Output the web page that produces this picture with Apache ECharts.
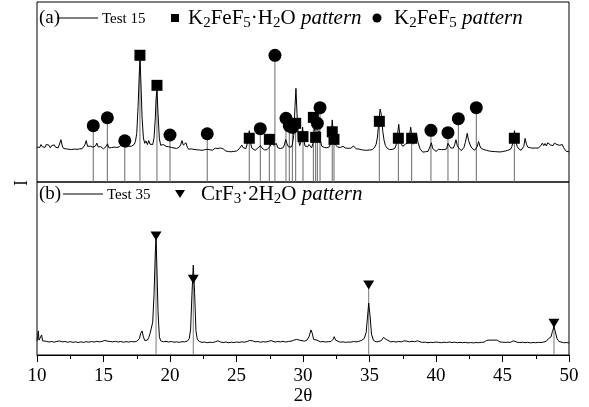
<!DOCTYPE html>
<html><head><meta charset="utf-8">
<script src="https://cdn.jsdelivr.net/npm/echarts@6/dist/echarts.min.js"></script>
<style>html,body{margin:0;padding:0;background:#fff}#c{width:589px;height:407px}</style>
</head><body><div id="c"></div>
<script>
// ---- data ----
const xTicks = [10, 15, 20, 25, 30, 35, 40, 45, 50];

// Test 15 trace (2θ, relative intensity, panel a)
const test15 = [
[10.0,19.5],[10.1,20.3],[10.2,19.1],[10.3,20.8],[10.4,19.6],[10.5,20.5],[10.6,19.2],[10.7,20.9],[10.8,19.8],[10.9,20.4],
[11.0,19.0],[11.1,20.2],[11.2,19.4],[11.3,20.6],[11.4,19.3],[11.5,20.1],[11.6,19.0],[11.7,19.8],[11.8,23.5],[11.85,24.4],
[11.9,20.0],[12.0,18.6],[12.1,19.3],[12.2,18.4],[12.3,19.0],[12.4,18.2],[12.5,18.9],[12.6,18.0],[12.7,18.7],[12.8,18.3],
[12.9,19.2],[13.0,18.1],[13.1,18.8],[13.2,18.4],[13.3,19.3],[13.4,18.5],[13.5,19.6],[13.6,20.6],[13.7,23.0],[13.8,19.8],
[13.9,19.1],[14.0,19.9],[14.1,20.7],[14.2,19.4],[14.3,18.8],[14.4,20.0],[14.5,21.6],[14.6,19.5],[14.7,18.8],[14.8,19.6],
[14.9,18.9],[15.0,18.4],[15.1,19.2],[15.2,19.8],[15.3,21.2],[15.4,19.0],[15.5,18.3],[15.6,19.1],[15.7,18.6],[15.8,19.4],
[15.9,18.7],[16.0,19.2],[16.1,18.5],[16.2,19.6],[16.3,20.4],[16.4,21.3],[16.5,19.6],[16.6,18.6],[16.7,19.4],[16.8,18.9],
[16.9,19.8],[17.0,19.2],[17.1,19.9],[17.2,20.1],[17.3,20.8],[17.4,22.5],[17.5,27.0],[17.6,42.0],[17.7,62.0],[17.75,67.5],
[17.8,58.0],[17.9,36.0],[18.0,24.5],[18.1,21.5],[18.2,22.8],[18.3,20.8],[18.4,23.0],[18.5,21.0],[18.6,20.0],[18.7,20.8],
[18.8,24.5],[18.9,36.0],[18.95,46.0],[19.02,51.5],[19.1,38.0],[19.2,24.0],[19.3,20.4],[19.4,19.6],[19.5,20.8],[19.6,21.8],
[19.7,19.8],[19.8,19.0],[19.9,19.6],[20.0,20.6],[20.1,19.2],[20.2,18.3],[20.3,18.9],[20.4,18.1],[20.5,18.6],[20.6,18.2],
[20.7,19.4],[20.8,20.6],[20.9,23.0],[21.0,20.5],[21.1,20.3],[21.2,21.8],[21.3,19.4],[21.4,18.2],[21.5,17.8],[21.6,18.4],
[21.7,17.6],[21.8,18.1],[21.9,17.4],[22.0,17.9],[22.1,17.2],[22.2,17.8],[22.3,17.0],[22.4,17.6],[22.5,17.1],[22.6,17.9],
[22.7,17.3],[22.8,18.2],[22.9,17.4],[23.0,17.9],[23.1,17.2],[23.2,17.7],[23.3,18.3],[23.4,18.8],[23.5,19.5],[23.6,18.6],
[23.7,19.4],[23.8,18.9],[23.9,19.6],[24.0,18.4],[24.1,17.6],[24.2,17.2],[24.3,17.7],[24.4,16.9],[24.5,17.4],[24.6,16.8],
[24.7,17.3],[24.8,17.0],[24.9,17.6],[25.0,17.2],[25.1,17.9],[25.2,18.4],[25.3,19.4],[25.4,20.5],[25.5,19.1],[25.6,18.0],
[25.7,18.5],[25.8,19.6],[25.9,23.5],[25.96,28.5],[26.05,22.0],[26.15,18.8],[26.3,18.0],[26.4,17.6],[26.5,18.2],[26.6,18.8],
[26.7,19.6],[26.8,20.3],[26.9,19.0],[27.0,18.2],[27.1,17.8],[27.2,18.4],[27.3,18.0],[27.4,18.7],[27.5,19.6],[27.6,21.0],
[27.7,23.2],[27.8,20.4],[27.9,19.6],[28.0,21.4],[28.1,19.0],[28.2,18.3],[28.3,18.6],[28.4,18.1],[28.5,19.0],[28.6,20.6],
[28.7,23.6],[28.8,21.2],[28.9,19.6],[29.0,18.8],[29.1,19.4],[29.2,20.6],[29.3,26.0],[29.4,42.0],[29.47,52.0],[29.55,38.0],
[29.65,24.0],[29.75,20.2],[29.85,22.5],[29.97,30.5],[30.05,24.0],[30.15,20.0],[30.25,19.0],[30.35,19.6],[30.45,20.8],[30.55,20.2],
[30.65,19.0],[30.75,21.5],[30.85,28.5],[30.92,32.0],[31.0,27.0],[31.1,24.0],[31.2,28.5],[31.3,23.5],[31.4,20.0],[31.5,20.8],
[31.6,19.2],[31.7,18.6],[31.8,19.0],[31.9,18.5],[32.0,19.6],[32.1,24.0],[32.2,34.5],[32.3,25.0],[32.4,21.0],[32.5,21.8],
[32.6,19.4],[32.7,18.6],[32.8,19.2],[32.9,18.4],[33.0,19.8],[33.1,20.4],[33.2,18.9],[33.3,18.2],[33.4,18.7],[33.5,18.1],
[33.6,18.8],[33.7,19.3],[33.8,20.0],[33.9,19.2],[34.0,18.4],[34.1,17.8],[34.2,18.3],[34.3,17.6],[34.4,17.9],[34.5,17.2],
[34.6,17.7],[34.7,17.0],[34.8,17.6],[34.9,17.1],[35.0,17.8],[35.1,17.3],[35.2,17.9],[35.3,18.4],[35.4,19.4],[35.5,21.0],
[35.6,25.0],[35.7,33.0],[35.8,40.5],[35.9,37.0],[36.0,28.0],[36.1,23.0],[36.2,20.2],[36.3,19.0],[36.4,18.4],[36.5,18.0],
[36.6,17.6],[36.7,18.1],[36.8,17.8],[36.9,18.6],[37.0,20.5],[37.1,26.0],[37.2,32.0],[37.3,24.0],[37.4,21.0],[37.5,19.8],
[37.6,20.4],[37.7,21.0],[37.8,20.0],[37.9,21.8],[38.0,25.5],[38.1,30.4],[38.2,24.5],[38.3,21.0],[38.4,21.6],[38.5,24.0],
[38.55,26.0],[38.65,22.0],[38.8,18.5],[38.9,17.4],[39.0,16.6],[39.1,17.2],[39.2,16.8],[39.3,17.4],[39.4,17.0],[39.5,17.9],
[39.6,20.6],[39.65,21.8],[39.75,18.6],[39.9,17.5],[40.0,17.0],[40.1,17.6],[40.2,18.2],[40.3,19.2],[40.4,18.0],[40.5,17.4],
[40.6,18.0],[40.7,17.5],[40.8,18.4],[40.9,21.5],[41.0,20.4],[41.1,19.0],[41.2,18.2],[41.3,18.8],[41.4,20.6],[41.5,23.5],
[41.6,20.2],[41.7,19.0],[41.8,18.0],[41.9,17.4],[42.0,18.2],[42.1,19.2],[42.2,21.8],[42.35,27.0],[42.45,23.0],[42.6,20.0],
[42.7,18.8],[42.8,18.2],[42.9,17.6],[43.0,18.4],[43.1,19.6],[43.2,22.5],[43.3,20.0],[43.4,18.6],[43.5,17.6],[43.6,18.0],
[43.7,17.2],[43.8,17.6],[43.9,16.8],[44.0,17.2],[44.1,16.6],[44.2,17.0],[44.3,16.4],[44.4,16.9],[44.5,16.3],[44.6,16.8],
[44.7,16.2],[44.8,16.7],[44.9,16.3],[45.0,16.9],[45.1,16.5],[45.2,17.2],[45.3,17.0],[45.4,17.6],[45.5,17.4],[45.6,18.2],
[45.7,19.6],[45.8,22.4],[45.9,28.5],[46.0,23.0],[46.1,19.8],[46.2,18.6],[46.3,18.0],[46.4,17.6],[46.5,18.2],[46.6,19.8],
[46.7,24.2],[46.8,21.0],[46.9,19.4],[47.0,20.4],[47.1,19.0],[47.2,18.4],[47.3,18.8],[47.4,18.2],[47.5,18.9],[47.6,18.3],
[47.7,18.8],[47.8,19.6],[47.9,20.4],[48.0,21.6],[48.1,20.2],[48.2,21.4],[48.3,20.0],[48.4,21.8],[48.5,22.2],[48.6,20.6],
[48.7,21.4],[48.8,20.2],[48.9,21.6],[49.0,22.4],[49.1,20.8],[49.2,21.8],[49.3,20.4],[49.4,19.8],[49.5,20.8],[49.6,19.0],
[49.7,18.2],[49.8,17.0],[49.9,16.4],[50.0,16.8]
];

// K2FeF5·H2O reference pattern (2θ, height)
const k2fef5h2oPattern = [
[17.74,70.4],[19.02,53.7],[25.96,24.3],[27.47,23.7],[29.45,32.6],[30.0,25.2],[30.78,35.9],
[30.95,24.8],[32.2,27.9],[32.33,23.7],[35.74,33.7],[37.17,24.3],[38.17,24.3],[45.89,24.3]
];
// K2FeF5 reference pattern
const k2fef5Pattern = [
[14.23,31.3],[15.29,35.7],[16.6,22.9],[20.0,26.1],[22.8,26.8],[26.79,29.6],[27.89,70.4],
[28.72,35.4],[28.97,31.1],[29.2,30.4],[31.08,32.6],[31.28,41.3],[39.62,28.7],[40.9,27.4],
[41.68,35.2],[43.03,41.3]
];

// Test 35 trace (panel b)
const test35 = [
[10.0,8.2],[10.05,10.5],[10.1,13.9],[10.15,8.6],[10.25,8.0],[10.35,11.6],[10.42,8.2],[10.5,7.6],[10.7,7.9],[10.9,7.5],
[11.1,7.8],[11.3,7.4],[11.5,7.9],[11.7,8.1],[11.9,7.6],[12.1,7.8],[12.3,7.4],[12.5,7.7],[12.7,7.3],[12.9,7.6],
[13.1,7.2],[13.3,7.6],[13.5,7.3],[13.7,7.7],[13.9,7.4],[14.1,7.8],[14.3,7.5],[14.5,7.9],[14.7,7.6],[14.9,7.9],
[15.1,8.4],[15.2,8.8],[15.3,8.0],[15.4,8.6],[15.5,7.8],[15.7,7.6],[15.9,7.9],[16.1,7.5],[16.3,7.8],[16.5,7.4],
[16.7,7.7],[16.9,7.5],[17.1,7.8],[17.3,7.6],[17.5,7.9],[17.7,9.5],[17.8,12.5],[17.9,13.9],[18.0,10.5],[18.1,8.4],
[18.2,8.0],[18.3,8.6],[18.4,10.0],[18.5,12.5],[18.6,15.6],[18.7,19.0],[18.8,35.0],[18.9,60.0],[18.95,67.6],[19.0,55.0],
[19.1,25.0],[19.2,10.5],[19.3,8.2],[19.5,7.6],[19.7,7.9],[19.9,7.5],[20.1,7.8],[20.3,7.4],[20.5,7.6],[20.7,7.3],
[20.9,7.7],[21.1,7.6],[21.3,8.0],[21.45,9.5],[21.55,15.0],[21.65,35.0],[21.75,52.0],[21.85,36.0],[21.95,14.0],[22.05,9.2],
[22.2,7.8],[22.4,7.3],[22.6,7.5],[22.8,7.1],[23.0,7.4],[23.2,7.2],[23.4,7.6],[23.6,8.2],[23.8,7.5],[24.0,7.2],
[24.2,7.5],[24.4,7.1],[24.6,7.4],[24.8,7.2],[25.0,7.5],[25.2,7.3],[25.4,7.6],[25.6,7.4],[25.8,7.8],[26.0,8.4],
[26.1,8.9],[26.2,8.2],[26.4,7.6],[26.6,7.8],[26.8,7.4],[27.0,7.7],[27.2,7.5],[27.4,7.9],[27.6,8.3],[27.7,7.8],
[27.9,7.5],[28.1,7.8],[28.3,7.6],[28.5,7.9],[28.7,7.5],[28.9,7.8],[29.1,8.0],[29.3,8.5],[29.5,9.0],[29.65,9.8],
[29.75,8.6],[29.9,8.2],[30.1,8.0],[30.3,8.6],[30.45,10.5],[30.6,14.5],[30.7,12.5],[30.8,9.0],[30.9,8.2],[31.05,8.6],
[31.15,8.0],[31.3,7.6],[31.5,7.8],[31.7,7.5],[31.9,7.7],[32.1,7.8],[32.25,9.0],[32.35,10.6],[32.45,8.6],[32.6,7.6],
[32.8,7.4],[33.0,7.6],[33.2,7.3],[33.4,7.5],[33.6,7.4],[33.8,7.8],[34.0,7.6],[34.2,7.9],[34.4,8.4],[34.6,9.5],
[34.75,13.0],[34.85,22.0],[34.94,30.0],[35.05,22.0],[35.15,12.0],[35.3,8.4],[35.5,7.6],[35.7,7.8],[35.9,8.4],[36.05,10.2],
[36.15,11.0],[36.25,9.0],[36.4,8.0],[36.6,7.6],[36.8,7.8],[37.0,7.5],[37.2,7.8],[37.4,7.6],[37.6,8.2],[37.7,8.6],
[37.8,8.0],[38.0,7.6],[38.2,7.9],[38.4,7.7],[38.6,8.2],[38.8,7.6],[39.0,7.3],[39.2,7.4],[39.4,7.1],[39.6,7.3],
[39.8,7.2],[40.0,7.5],[40.2,7.3],[40.4,7.1],[40.6,7.4],[40.8,7.2],[41.0,7.5],[41.2,7.2],[41.4,7.4],[41.6,7.1],
[41.8,7.3],[42.0,7.1],[42.2,7.3],[42.4,7.0],[42.6,7.2],[42.8,7.0],[43.0,7.2],[43.2,7.1],[43.4,7.3],[43.6,7.4],
[43.8,8.4],[43.9,9.4],[44.0,8.6],[44.1,8.0],[44.3,8.6],[44.45,9.6],[44.6,8.6],[44.8,7.6],[45.0,7.4],[45.2,7.3],
[45.4,7.4],[45.6,7.3],[45.8,8.2],[45.9,7.8],[46.1,7.4],[46.3,7.2],[46.5,7.4],[46.7,7.1],[46.9,7.3],[47.1,7.0],
[47.3,7.2],[47.5,7.1],[47.7,7.3],[47.9,7.2],[48.1,7.5],[48.3,8.0],[48.45,9.4],[48.55,8.8],[48.65,10.5],[48.75,13.5],
[48.87,16.4],[48.97,13.5],[49.1,9.4],[49.25,7.8],[49.4,7.3],[49.6,7.1],[49.8,7.2],[50.0,7.0]
];
// CrF3·2H2O reference pattern
const crf3Pattern = [[18.95,68.8],[21.75,43.8],[34.94,40.5],[48.87,18.3]];

// ---- chart ----
const SERIF = '"Liberation Serif","DejaVu Serif","Times New Roman",serif';
const chart = echarts.init(document.getElementById('c'), null, {renderer: 'canvas'});

function sticks(data, gi, color) {
  return {
    type: 'custom', xAxisIndex: gi, yAxisIndex: gi, data: data, z: 1, silent: true,
    renderItem: function (params, api) {
      const top = api.coord([api.value(0), api.value(1)]);
      const bot = api.coord([api.value(0), 0]);
      return {type: 'line', shape: {x1: top[0], y1: top[1], x2: bot[0], y2: bot[1]},
        style: {stroke: color, lineWidth: 1}};
    }
  };
}

const subRich = {
  n: {fontFamily: SERIF, fontSize: 21, color: '#000'},
  s: {fontFamily: SERIF, fontSize: 15, color: '#000', padding: [11, 0, 0, 0]},
  i: {fontFamily: SERIF, fontSize: 21, color: '#000', fontStyle: 'italic'}
};

function txt(x, y, text, size) {
  return {type: 'text', x: x, y: y, silent: true,
    style: {text: text, fontFamily: SERIF, fontSize: size, fill: '#000', verticalAlign: 'middle', align: 'left'}};
}
function richTxt(x, y, text) {
  return {type: 'text', x: x, y: y, silent: true,
    style: {text: text, rich: subRich, verticalAlign: 'middle', align: 'left', fill: '#000'}};
}

const option = {
  animation: false,
  backgroundColor: '#fff',
  grid: [
    {left: 37, right: 20, top: 2, height: 180, show: true, borderColor: '#000', borderWidth: 1, backgroundColor: 'transparent'},
    {left: 37, right: 20, top: 182, height: 173, show: true, borderColor: '#000', borderWidth: 1, backgroundColor: 'transparent'}
  ],
  xAxis: [
    {gridIndex: 0, type: 'value', min: 10, max: 50, interval: 5, axisLine: {show: false},
     axisTick: {show: false}, axisLabel: {show: false}, splitLine: {show: false}},
    {gridIndex: 1, type: 'value', min: 10, max: 50, interval: 5,
     axisLine: {show: true, lineStyle: {color: '#000', width: 1}},
     axisTick: {show: true, inside: false, length: 7, lineStyle: {color: '#000'}},
     minorTick: {show: true, splitNumber: 2, length: 4, lineStyle: {color: '#000'}},
     splitLine: {show: false},
     axisLabel: {color: '#000', fontFamily: SERIF, fontSize: 19, margin: 12,
       formatter: function (v) { return xTicks.indexOf(v) >= 0 ? String(v) : ''; }},
     name: '2θ', nameLocation: 'middle', nameGap: 29,
     nameTextStyle: {color: '#000', fontFamily: SERIF, fontSize: 19}}
  ],
  yAxis: [
    {gridIndex: 0, type: 'value', min: 0, max: 100, show: false},
    {gridIndex: 1, type: 'value', min: 0, max: 100, show: false}
  ],
  series: [
    sticks(k2fef5h2oPattern, 0, '#6a6a6a'),
    sticks(k2fef5Pattern, 0, '#6a6a6a'),
    sticks(crf3Pattern, 1, '#7a7a7a'),
    {name: 'Test 15', type: 'line', xAxisIndex: 0, yAxisIndex: 0, data: test15, symbol: 'none',
     lineStyle: {color: '#000', width: 1}, z: 2, silent: true},
    {name: 'Test 35', type: 'line', xAxisIndex: 1, yAxisIndex: 1, data: test35, symbol: 'none',
     lineStyle: {color: '#000', width: 1}, z: 2, silent: true},
    {name: 'K2FeF5·H2O pattern', type: 'scatter', xAxisIndex: 0, yAxisIndex: 0, data: k2fef5h2oPattern,
     symbol: 'rect', symbolSize: 11, itemStyle: {color: '#000', opacity: 1}, z: 3, silent: true},
    {name: 'K2FeF5 pattern', type: 'scatter', xAxisIndex: 0, yAxisIndex: 0, data: k2fef5Pattern,
     symbol: 'circle', symbolSize: 13, itemStyle: {color: '#000', opacity: 1}, z: 3, silent: true},
    {name: 'CrF3·2H2O pattern', type: 'scatter', xAxisIndex: 1, yAxisIndex: 1, data: crf3Pattern,
     symbol: 'triangle', symbolRotate: 180, symbolSize: [11, 9], itemStyle: {color: '#000', opacity: 1}, z: 3, silent: true}
  ],
  graphic: [
    // panel (a) legend
    txt(39, 18, '(a)', 19),
    {type: 'line', silent: true, shape: {x1: 57, y1: 18, x2: 98, y2: 18}, style: {stroke: '#000', lineWidth: 1}},
    txt(102, 19, 'Test 15', 15),
    {type: 'rect', silent: true, shape: {x: 171, y: 14, width: 8, height: 8}, style: {fill: '#000'}},
    richTxt(188, 18, '{n|K}{s|2}{n|FeF}{s|5}{n|·H}{s|2}{n|O }{i|pattern}'),
    {type: 'circle', silent: true, shape: {cx: 377, cy: 18, r: 4.5}, style: {fill: '#000'}},
    richTxt(394, 18, '{n|K}{s|2}{n|FeF}{s|5}{n| }{i|pattern}'),
    // panel (b) legend
    txt(39, 194, '(b)', 19),
    {type: 'line', silent: true, shape: {x1: 63, y1: 194, x2: 103, y2: 194}, style: {stroke: '#000', lineWidth: 1}},
    txt(107, 195, 'Test 35', 15),
    {type: 'polygon', silent: true, shape: {points: [[175, 190], [185, 190], [180, 198]]}, style: {fill: '#000'}},
    richTxt(201, 194, '{n|CrF}{s|3}{n|·2H}{s|2}{n|O }{i|pattern}'),
    // y axis name
    {type: 'text', x: 22, y: 183, rotation: Math.PI / 2, silent: true,
     style: {text: 'I', fontFamily: SERIF, fontSize: 18, fill: '#000', align: 'center', verticalAlign: 'middle'}}
  ]
};
chart.setOption(option);
</script>
</body></html>
